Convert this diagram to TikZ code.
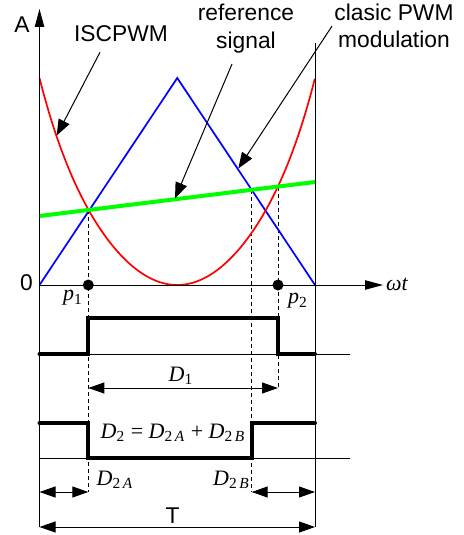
\documentclass[tikz,border=0pt]{standalone}
\usepackage{fontspec}
\setmainfont{Liberation Sans}
\newfontfamily\tms{Liberation Serif}
\usetikzlibrary{arrows.meta}
\tikzset{
  lbl/.style={inner sep=1pt,font=\fontsize{11.4}{13.75}\selectfont},
  mlbl/.style={inner sep=1pt,font=\tms\fontsize{11}{13}\selectfont\itshape},
  pointer/.style={-{Triangle[length=8pt,width=6pt]},line width=0.5pt},
  axisarrow/.style={-{Triangle[length=9pt,width=4.7pt]},line width=0.5pt},
  dimarrow/.style={{Triangle[length=8pt,width=5.5pt]}-{Triangle[length=8pt,width=5.5pt]},line width=0.5pt},
  pulse/.style={line width=2pt,line cap=round},
  guide/.style={line width=0.5pt,dash pattern=on 2pt off 1.5pt},
  dot/.style={circle,fill=black,inner sep=0pt,minimum size=5.5pt},
}
\begin{document}
\begin{tikzpicture}[x=0.5pt,y=-0.5pt]
		\useasboundingbox (0,0) rectangle (464,535);
		% Points
		\coordinate (O) at (39.5,285);
		\coordinate (E) at (315,285);
		\coordinate (c1) at (88.3,210);
		\coordinate (c2) at (251.7,189.8);
		\coordinate (c3) at (278,186.6);
		\coordinate (rowD1) at (0,388);
		\coordinate (rowD2) at (0,492);
		\coordinate (rowT) at (0,527);

		% Guides
		\draw[guide] (c1) -- (c1 |- rowD2);
		\draw[guide] (c2) -- (c2 |- rowD2);
		\draw[guide] (c3) -- (c3 |- rowD1);

		%Signaux
		\draw[blue,line width=0.85pt] (O) -- (177.25,78) -- (E);
		\draw[red,line width=0.85pt,smooth,samples=100,domain=-1:1] plot({177.25+137.75*\x},{285-207*(0.86*(\x)^2-0.036*(\x)^4+0.176*(\x)^6)});
		\draw[green,line width=2pt] (39.5,216) -- (315,182);

		% Axes
		\draw[axisarrow] (O |- rowT) -- (39.5,9);
		\draw[axisarrow] (O) -- (383,285);
		\draw[line width=0.5pt] (315,43) -- (E |- rowT);
		\node[lbl] (A) at (22,25) {A};
		\node[lbl] (zero) at (26.5,283) {0};
		\node[mlbl] (wt) at (397,284) {ωt};

		\node[dot] (p1) at (c1 |- O) {};
		\node[dot] (p2) at (c3 |- O) {};
		\node[mlbl] (lp1) at (73,298) {p\textsubscript{\textup{1}}};
		\node[mlbl] (lp2) at (298,301) {p\textsubscript{\textup{2}}};

		% Labels
		\coordinate (tisc) at (56.7,135.5);
		\coordinate (tref) at (175,198.5);
		\coordinate (tpwm) at (238.3,168.5);
		\node[lbl] (lisc) at (121,34) {ISCPWM};
		\node[lbl,align=center] (lref) at (246,28.7) {reference\\signal};
		\node[lbl,align=center] (lpwm) at (394,26) {clasic PWM\\modulation};
		\draw[pointer] ([xshift=-10.5pt,yshift=-3.9pt]lisc.south) -- (tisc);
		\draw[pointer] ([xshift=-7pt,yshift=-4.3pt]lref.south) -- (tref);
		\draw[pointer] (lpwm.west) -- (tpwm);

		% D1
		\draw[line width=0.5pt] (39.5,354) -- (350,354);
		\draw[pulse] (39.5,354) -- (88.3,354) -- (88.3,318) -- (278,318) -- (278,354) -- (315,354);
		\draw[dimarrow] (c1 |- rowD1) -- (c3 |- rowD1);
		\node[mlbl] (lD1) at (181,376) {D\textsubscript{\textup{1}}};

		% D2
		\draw[line width=0.5pt] (39.5,458) -- (350,458);
		\draw[pulse] (39.5,423) -- (88.3,423) -- (88.3,458) -- (251.7,458) -- (251.7,423) -- (315,423);
		\node[mlbl] (lD2) at (173,433) {D\textsubscript{\textup{2}} \textup{=} D\textsubscript{\textup{2}\,A} \textup{+} D\textsubscript{\textup{2}\,B}};
		\node[mlbl] (lD2A) at (115,480) {D\textsubscript{\textup{2}\,A}};
		\node[mlbl] (lD2B) at (231.5,480) {D\textsubscript{\textup{2}\,B}};
		\draw[dimarrow] (O |- rowD2) -- (c1 |- rowD2);
		\draw[dimarrow] (c2 |- rowD2) -- (E |- rowD2);

		% T
		\draw[dimarrow] (O |- rowT) -- (E |- rowT);
		\node[lbl] (lT) at (172.5,516) {T};
\end{tikzpicture}
\end{document}
